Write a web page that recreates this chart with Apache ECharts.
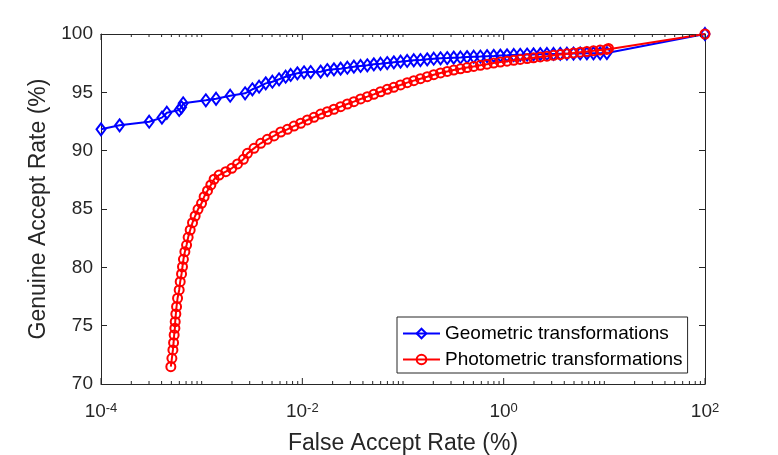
<!DOCTYPE html>
<html>
<head>
<meta charset="utf-8">
<script src="https://cdn.jsdelivr.net/npm/echarts@6/dist/echarts.min.js"></script>
<style>
  html, body { margin: 0; padding: 0; background: #fff; }
  #chart { width: 778px; height: 455px; }
</style>
</head>
<body>
<div id="chart"></div>
<script>
// false accept rate (%) / genuine accept rate (%)
const geoFar = [1.0e-4, 1.53e-4, 3.01e-4, 4.03e-4, 4.51e-4, 5.98e-4, 6.31e-4, 6.55e-4, 1.10e-3, 1.39e-3,
  1.92e-3, 2.70e-3, 3.19e-3, 3.72e-3, 4.33e-3, 5.04e-3, 5.87e-3, 6.83e-3, 7.66e-3, 8.93e-3,
  1.04e-2, 1.21e-2, 1.52e-2, 1.77e-2, 2.06e-2, 2.40e-2, 2.80e-2, 3.25e-2, 3.79e-2, 4.42e-2,
  5.13e-2, 5.98e-2, 6.97e-2, 8.11e-2, 9.45e-2, 0.110, 0.128, 0.149, 0.174, 0.202,
  0.236, 0.275, 0.319, 0.372, 0.433, 0.504, 0.587, 0.684, 0.796, 0.927,
  1.08, 1.26, 1.46, 1.71, 1.98, 2.31, 2.69, 3.13, 3.65, 4.25,
  4.94, 5.76, 6.71, 7.80, 9.09, 10.6, 100];
const geoGar = [91.83, 92.17, 92.48, 92.83, 93.25, 93.49, 93.72, 94.06, 94.32, 94.45,
  94.71, 94.92, 95.26, 95.48, 95.77, 95.91, 96.12, 96.34, 96.49, 96.63,
  96.72, 96.74, 96.77, 96.91, 96.97, 97.03, 97.11, 97.20, 97.26, 97.32,
  97.40, 97.45, 97.51, 97.57, 97.63, 97.69, 97.75, 97.77, 97.83, 97.88,
  97.92, 97.94, 97.97, 97.99, 98.02, 98.05, 98.07, 98.10, 98.12, 98.15,
  98.17, 98.20, 98.22, 98.24, 98.25, 98.27, 98.29, 98.29, 98.30, 98.31,
  98.32, 98.33, 98.34, 98.35, 98.35, 98.37, 100];

const photoFar = [4.94e-4, 5.06e-4, 5.18e-4, 5.26e-4, 5.33e-4, 5.42e-4, 5.46e-4, 5.54e-4, 5.63e-4, 5.76e-4,
  5.98e-4, 6.12e-4, 6.31e-4, 6.45e-4, 6.59e-4, 6.81e-4, 7.08e-4, 7.34e-4, 7.69e-4, 8.11e-4,
  8.61e-4, 9.20e-4, 9.97e-4, 1.058e-3, 1.143e-3, 1.233e-3, 1.329e-3, 1.489e-3, 1.736e-3, 1.99e-3,
  2.27e-3, 2.60e-3, 2.85e-3, 3.31e-3, 3.86e-3, 4.49e-3, 5.23e-3, 6.10e-3, 7.11e-3, 8.26e-3,
  9.63e-3, 1.122e-2, 1.304e-2, 1.52e-2, 1.77e-2, 2.06e-2, 2.40e-2, 2.80e-2, 3.25e-2, 3.79e-2,
  4.42e-2, 5.12e-2, 5.98e-2, 6.97e-2, 8.09e-2, 9.45e-2, 0.110, 0.128, 0.149, 0.174,
  0.202, 0.236, 0.275, 0.319, 0.372, 0.433, 0.504, 0.587, 0.684, 0.796,
  0.927, 1.08, 1.26, 1.46, 1.71, 1.98, 2.31, 2.69, 3.13, 3.65,
  4.25, 4.94, 5.76, 6.71, 7.80, 9.09, 10.6, 11.0, 100];
const photoGar = [71.48, 72.20, 72.92, 73.54, 74.20, 74.78, 75.34, 76.00, 76.63, 77.35,
  78.06, 78.77, 79.43, 80.05, 80.69, 81.34, 81.91, 82.57, 83.20, 83.83,
  84.40, 84.97, 85.49, 86.05, 86.57, 87.06, 87.55, 87.91, 88.20, 88.49,
  88.86, 89.26, 89.77, 90.20, 90.63, 90.97, 91.26, 91.60, 91.83, 92.11,
  92.35, 92.63, 92.86, 93.14, 93.34, 93.55, 93.77, 94.00, 94.20, 94.43,
  94.63, 94.83, 95.05, 95.26, 95.43, 95.63, 95.83, 96.00, 96.17, 96.34,
  96.51, 96.66, 96.79, 96.91, 97.02, 97.12, 97.22, 97.32, 97.41, 97.51,
  97.59, 97.67, 97.75, 97.82, 97.89, 97.96, 98.03, 98.10, 98.17, 98.24,
  98.31, 98.37, 98.44, 98.50, 98.56, 98.62, 98.68, 98.76, 100];

const seriesNames = ["Geometric transformations", "Photometric transformations"];
const yTicks = [70, 75, 80, 85, 90, 95, 100];

const FONT = "'Liberation Sans', Arial, sans-serif";
const INK = "#262626";

// matlab style log ticks: long at labelled decades, short at 2..9 and odd decades
const xTicks = [];
for (let e = -4; e <= 1; e++) {
  for (let k = 1; k <= 9; k++) {
    xTicks.push([k * Math.pow(10, e), k === 1 && e % 2 === 0 ? 1 : 0]);
  }
}
xTicks.push([100, 1]);

function zip(xs, ys) {
  return xs.map((x, i) => [x, ys[i]]);
}

const chart = echarts.init(document.getElementById("chart"), null, { renderer: "canvas" });

const xAxisBase = {
  type: "log",
  logBase: 10,
  min: 1e-4,
  max: 100,
  axisLine: { show: true, lineStyle: { color: INK, width: 1 } },
  axisTick: { show: false },
  splitLine: { show: false },
  minorTick: { show: false },
};

const yAxisBase = {
  type: "value",
  min: yTicks[0],
  max: yTicks[yTicks.length - 1],
  interval: 5,
  axisLine: { show: true, lineStyle: { color: INK, width: 1 } },
  axisTick: { show: true, inside: true, length: 6, lineStyle: { color: INK } },
  splitLine: { show: false },
};

const option = {
  animation: false,
  grid: { left: 101, right: 73, top: 34, bottom: 71, containLabel: false, outerBoundsMode: "none" },
  legend: {
    data: seriesNames,
    orient: "vertical",
    left: 397,
    top: 317,
    backgroundColor: "#fff",
    borderColor: INK,
    borderWidth: 1,
    borderRadius: 0,
    padding: [7, 5, 4, 5],
    itemGap: 7,
    itemWidth: 37,
    itemHeight: 12,
    textStyle: { fontFamily: FONT, fontSize: 19, color: "#000" },
  },
  xAxis: [
    Object.assign({}, xAxisBase, {
      position: "bottom",
      name: "False Accept Rate (%)",
      nameLocation: "middle",
      nameGap: 48,
      nameTextStyle: { fontFamily: FONT, fontSize: 23, color: INK },
      axisLabel: {
        margin: 18,
        fontFamily: FONT,
        color: INK,
        formatter: (v) => {
          const e = Math.round(Math.log10(v));
          if (e % 2 !== 0) return "";
          return "{b|10}{s|" + e + "}";
        },
        rich: {
          b: { fontFamily: FONT, fontSize: 19, lineHeight: 19, color: INK, padding: [4, 0, 0, 0], verticalAlign: "bottom" },
          s: { fontFamily: FONT, fontSize: 13, lineHeight: 13, color: INK, verticalAlign: "top" },
        },
      },
    }),
    Object.assign({}, xAxisBase, {
      position: "top",
      axisLabel: { show: false },
    }),
  ],
  yAxis: [
    Object.assign({}, yAxisBase, {
      position: "left",
      name: "Genuine Accept Rate (%)",
      nameLocation: "middle",
      nameGap: 49,
      nameTextStyle: { fontFamily: FONT, fontSize: 23, color: INK },
      axisLabel: { margin: 8, fontFamily: FONT, fontSize: 19, color: INK },
    }),
    Object.assign({}, yAxisBase, {
      position: "right",
      axisLabel: { show: false },
    }),
  ],
  series: [
    {
      name: seriesNames[0],
      type: "line",
      data: zip(geoFar, geoGar),
      symbol: "diamond",
      symbolSize: [9, 12],
      showAllSymbol: true,
      lineStyle: { color: "#0000ff", width: 2 },
      itemStyle: { color: "rgba(255,255,255,0)", borderColor: "#0000ff", borderWidth: 2 },
      z: 3,
    },
    {
      name: seriesNames[1],
      type: "line",
      data: zip(photoFar, photoGar),
      symbol: "circle",
      symbolSize: 9,
      showAllSymbol: true,
      lineStyle: { color: "#ff0000", width: 2 },
      itemStyle: { color: "rgba(255,255,255,0)", borderColor: "#ff0000", borderWidth: 2 },
      z: 4,
    },
    {
      type: "custom",
      silent: true,
      clip: false,
      data: xTicks,
      encode: { x: 0 },
      z: 5,
      renderItem: (params, api) => {
        const v = api.value(0);
        const len = api.value(1) ? 6 : 3;
        const b = api.coord([v, yTicks[0]]);
        const t = api.coord([v, yTicks[yTicks.length - 1]]);
        const style = { stroke: INK, lineWidth: 1 };
        return {
          type: "group",
          children: [
            { type: "line", shape: { x1: b[0], y1: b[1], x2: b[0], y2: b[1] - len }, style },
            { type: "line", shape: { x1: t[0], y1: t[1], x2: t[0], y2: t[1] + len }, style },
          ],
        };
      },
    },
  ],
};

chart.setOption(option);
window.addEventListener("resize", chart.resize);
</script>
</body>
</html>
